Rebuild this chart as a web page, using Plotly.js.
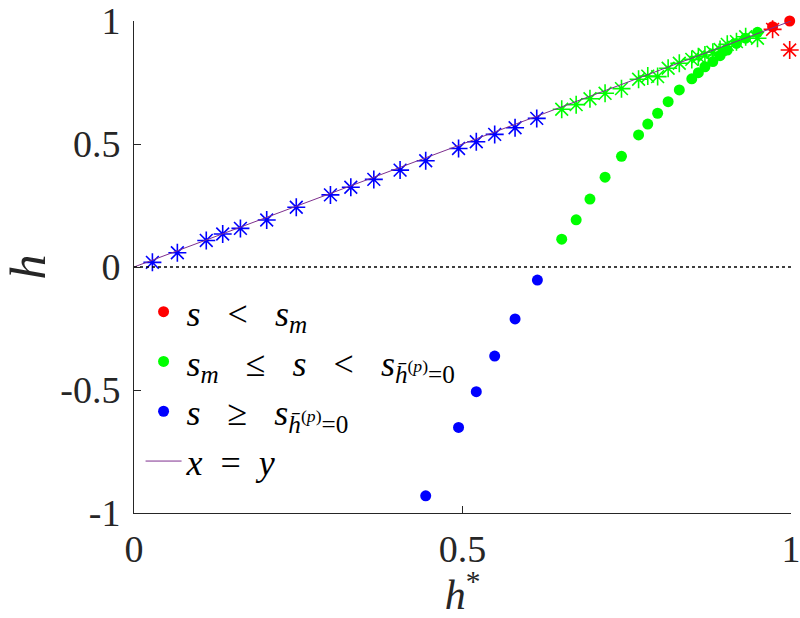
<!DOCTYPE html>
<html>
<head>
<meta charset="utf-8">
<script src="https://cdn.plot.ly/plotly-3.0.1.min.js"></script>
<style>
  html, body { margin: 0; padding: 0; background: #fff; }
  #plot { width: 800px; height: 618px; }
</style>
</head>
<body>
<div id="plot"></div>
<script>
// h* positions and h values
const blueX = [0.028, 0.066, 0.110, 0.135, 0.162, 0.202, 0.247, 0.299, 0.330, 0.365, 0.405, 0.444, 0.494, 0.521, 0.549, 0.580, 0.613];
const blueStarY = [0.019, 0.058, 0.108, 0.134, 0.157, 0.191, 0.243, 0.293, 0.324, 0.356, 0.394, 0.432, 0.482, 0.509, 0.539, 0.566, 0.604];
const blueDotX = [0.444, 0.494, 0.521, 0.549, 0.580, 0.614];
const blueDotY = [-0.930, -0.652, -0.507, -0.362, -0.211, -0.053];

const greenX = [0.651, 0.673, 0.694, 0.717, 0.742, 0.768, 0.782, 0.797, 0.813, 0.830, 0.849, 0.859, 0.869, 0.881, 0.892, 0.903, 0.917, 0.931, 0.949];
const greenDotY = [0.113, 0.192, 0.276, 0.365, 0.450, 0.537, 0.581, 0.625, 0.672, 0.720, 0.765, 0.790, 0.814, 0.835, 0.859, 0.882, 0.909, 0.930, 0.954];
const greenStarY = [0.641, 0.660, 0.684, 0.706, 0.725, 0.763, 0.776, 0.774, 0.808, 0.828, 0.844, 0.855, 0.862, 0.873, 0.884, 0.905, 0.916, 0.936, 0.930];

const redX = [0.972, 0.998];
const redDotY = [0.977, 1.000];
const redStarY = [0.966, 0.882];

const diagX = [0, 1];
const zeroX = [0, 1];
const zeroY = [0, 0];

const serif = 'Liberation Serif';
const dark = '#262626';
const sp = '\u00a0\u00a0\u00a0'; // wider gap around relations, like TeX
const sp2 = '\u00a0\u00a0';

function stars(x, y, color) {
  return {
    type: 'scatter', mode: 'markers', x: x, y: y, showlegend: false, cliponaxis: false,
    marker: { symbol: 'asterisk-open', size: 15, color: color, line: { color: color, width: 1.6 } },
    hoverinfo: 'skip'
  };
}
function dots(x, y, color, name) {
  return {
    type: 'scatter', mode: 'markers', x: x, y: y, name: name, cliponaxis: false,
    marker: { symbol: 'circle', size: 11, color: color }
  };
}

const subH = '<sub><i>h̄</i><sup>(<i>p</i>)</sup>=0</sub>';
const traces = [
  stars(redX, redStarY, '#ff0000'),
  stars(greenX, greenStarY, '#00ff00'),
  stars(blueX, blueStarY, '#0000ff'),
  dots(redX, redDotY, '#ff0000', '<i>s</i>' + sp + '&lt;' + sp + '<i>s<sub>m</sub></i>'),
  dots(greenX, greenDotY, '#00ff00', '<i>s<sub>m</sub></i>' + sp + '≤' + sp + '<i>s</i>' + sp + '&lt;' + sp + '<i>s</i>' + subH),
  dots(blueDotX, blueDotY, '#0000ff', '<i>s</i>' + sp + '≥' + sp + '<i>s</i>' + subH),
  {
    type: 'scatter', mode: 'lines', x: diagX, y: diagX, name: '<i>x</i>' + sp2 + '=' + sp2 + '<i>y</i>',
    line: { color: '#7e2f8e', width: 1 }
  },
  {
    type: 'scatter', mode: 'lines', x: zeroX, y: zeroY, showlegend: false,
    line: { color: '#000000', width: 1.5, dash: 'dot' }, hoverinfo: 'skip'
  }
];

const layout = {
  width: 800, height: 618,
  margin: { l: 134, r: 9, t: 21, b: 105 },
  paper_bgcolor: '#fff', plot_bgcolor: '#fff',
  font: { family: serif, color: dark },
  showlegend: true,
  legend: {
    x: 0.01, y: 0.47, xanchor: 'left', yanchor: 'top',
    bgcolor: 'rgba(0,0,0,0)', font: { family: serif, size: 36, color: '#000' },
    itemwidth: 36
  },
  xaxis: {
    range: [0, 1], tickvals: [0, 0.5, 1], ticktext: ['0', '0.5', '1'],
    ticks: 'inside', ticklen: 7, tickcolor: dark, showline: true, linecolor: dark, linewidth: 1,
    showgrid: false, zeroline: false, mirror: false, ticklabeloverflow: 'allow',
    tickfont: { family: serif, size: 38, color: dark }, ticklabelstandoff: 2,
    title: { text: '<i>h</i><sup>*</sup>', font: { family: serif, size: 42, color: dark }, standoff: 20 }
  },
  yaxis: {
    range: [-1, 1], tickvals: [-1, -0.5, 0, 0.5, 1], ticktext: ['-1', '-0.5', '0', '0.5', '1'],
    ticks: 'inside', ticklen: 7, tickcolor: dark, showline: true, linecolor: dark, linewidth: 1,
    showgrid: false, zeroline: false, mirror: false, ticklabeloverflow: 'allow',
    tickfont: { family: serif, size: 38, color: dark }, ticklabelstandoff: 5,
    title: { text: '<i>h</i>', font: { family: serif, size: 50, color: dark }, standoff: 34 }
  }
};

Plotly.newPlot('plot', traces, layout, { displayModeBar: false, staticPlot: true });
</script>
</body>
</html>
